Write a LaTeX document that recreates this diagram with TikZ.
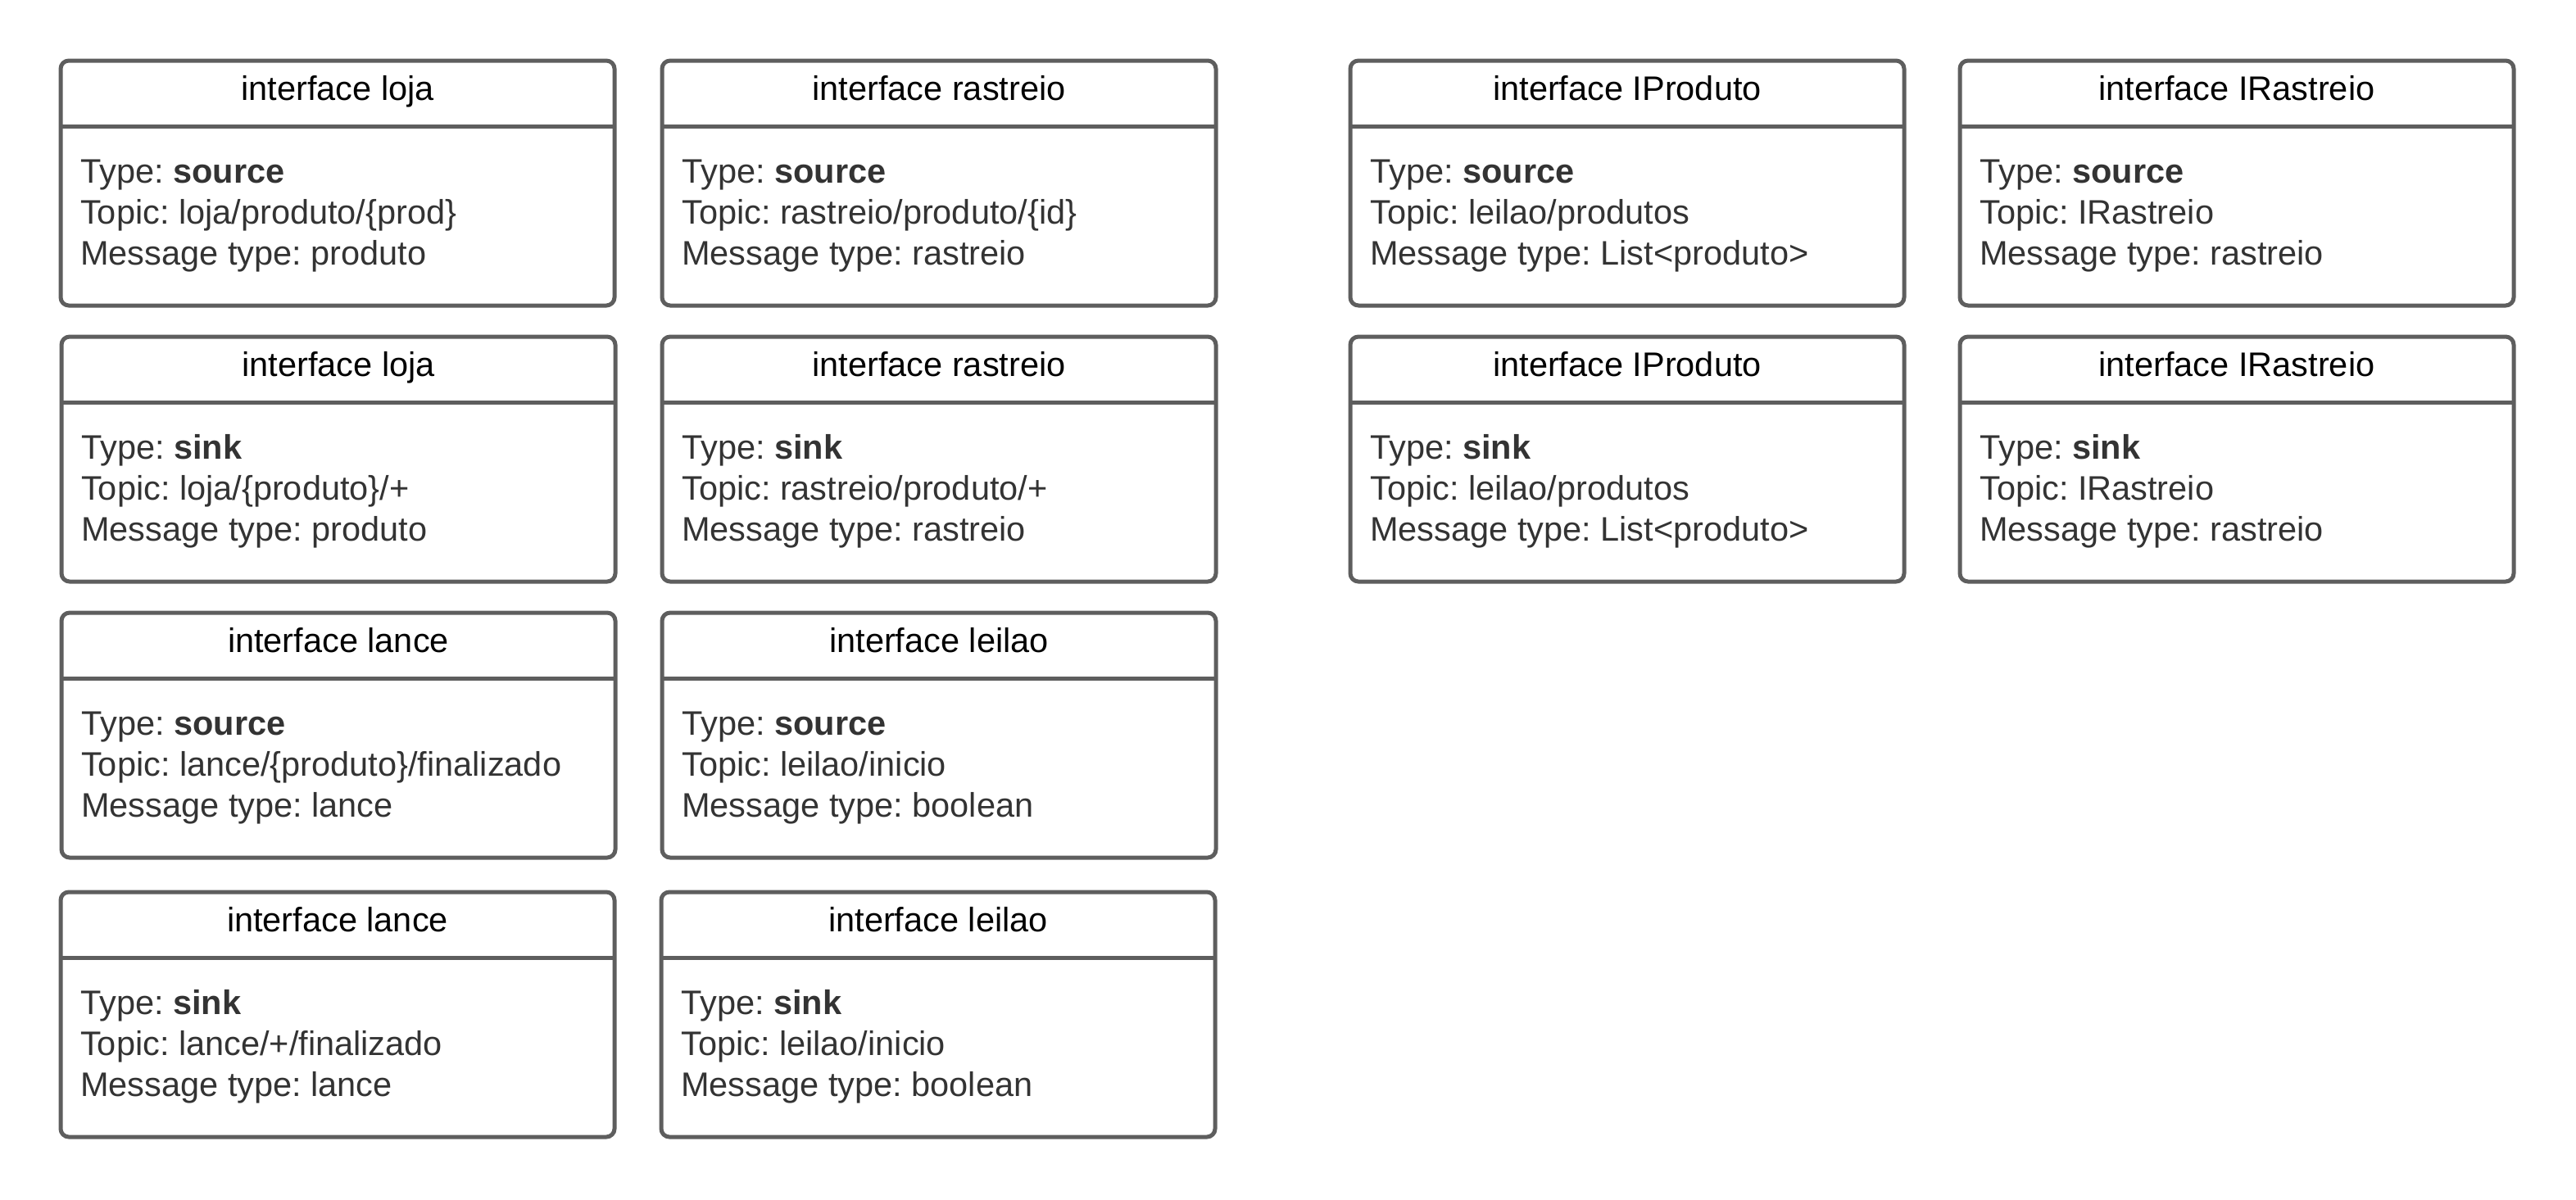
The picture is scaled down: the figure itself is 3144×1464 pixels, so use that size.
\documentclass[tikz,border=0pt]{standalone}
\usepackage{fontspec}
\setmainfont{Liberation Sans}
\frenchspacing
\definecolor{bordc}{HTML}{5E5E5E}
\definecolor{bodyc}{HTML}{333333}
\tikzset{
  ifcbox/.style={draw=bordc, line width=5pt, rounded corners=10pt, minimum width=676pt, minimum height=299pt, inner sep=0pt, outer sep=0pt, anchor=north west, fill=white},
  sepline/.style={draw=bordc, line width=5pt},
  titletxt/.style={anchor=base, inner sep=0pt, text=black, font=\fontsize{41.5}{50}\selectfont},
  bodytxt/.style={anchor=base west, inner sep=0pt, text=bodyc, font=\fontsize{41.5}{50}\selectfont}
}
\newcommand{\ifcdraw}[7]{%
  \node[ifcbox] (#1) at (#2,#3) {};
  \draw[sepline] ([yshift=-80pt]#1.north west) -- ([yshift=-80pt]#1.north east);
  \node[titletxt] (#1t) at ([yshift=-48pt]#1.north) {#4};
  \node[bodytxt] (#1a) at ([xshift=24pt,yshift=-149pt]#1.north west) {Type: \textbf{#5}};
  \node[bodytxt] (#1b) at ([xshift=24pt,yshift=-199pt]#1.north west) {Topic: #6};
  \node[bodytxt] (#1c) at ([xshift=24pt,yshift=-249pt]#1.north west) {Message type: #7};
}
\begin{document}
\begin{tikzpicture}[x=1pt,y=-1pt]
\fill[white] (0,0) rectangle (3144,1464);
\useasboundingbox (0,0) rectangle (3144,1464);
\ifcdraw{ba}{74}{74}{interface loja}{source}{loja/produto/\{prod\}}{produto}
\ifcdraw{bb}{75}{411}{interface loja}{sink}{loja/\{produto\}/+}{produto}
\ifcdraw{bc}{75}{748}{interface lance}{source}{lance/\{produto\}/finalizado}{lance}
\ifcdraw{bd}{74}{1089}{interface lance}{sink}{lance/+/finalizado}{lance}
\ifcdraw{ca}{808}{74}{interface rastreio}{source}{rastreio/produto/\{id\}}{rastreio}
\ifcdraw{cb}{808}{411}{interface rastreio}{sink}{rastreio/produto/+}{rastreio}
\ifcdraw{cc}{808}{748}{interface leilao}{source}{leilao/inicio}{boolean}
\ifcdraw{cd}{807}{1089}{interface leilao}{sink}{leilao/inicio}{boolean}
\ifcdraw{da}{1648}{74}{interface IProduto}{source}{leilao/produtos}{List<produto>}
\ifcdraw{db}{1648}{411}{interface IProduto}{sink}{leilao/produtos}{List<produto>}
\ifcdraw{ea}{2392}{74}{interface IRastreio}{source}{IRastreio}{rastreio}
\ifcdraw{eb}{2392}{411}{interface IRastreio}{sink}{IRastreio}{rastreio}
\end{tikzpicture}
\end{document}
